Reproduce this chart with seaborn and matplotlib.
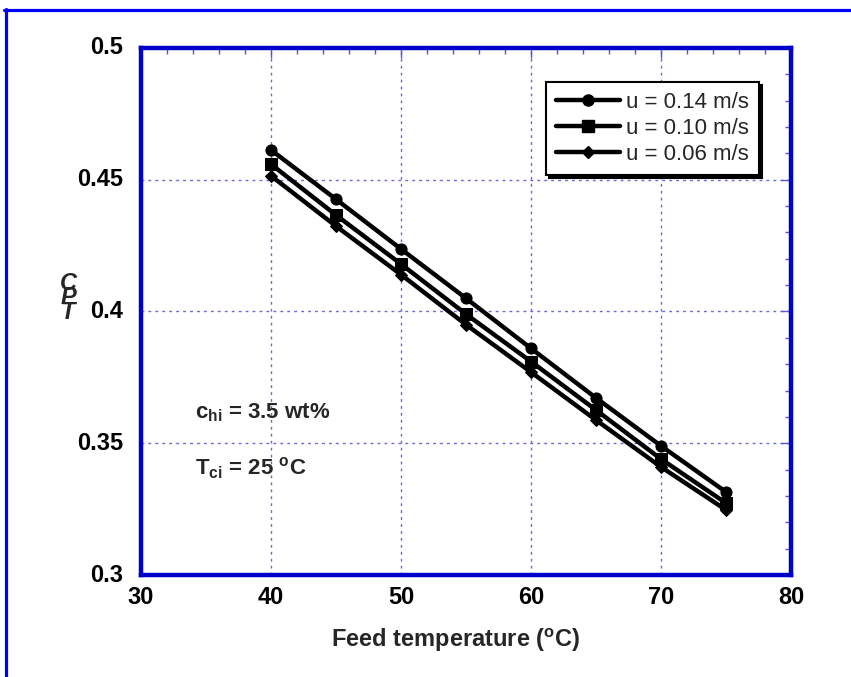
import matplotlib
matplotlib.use("Agg")
import matplotlib.pyplot as plt
from matplotlib.lines import Line2D
from matplotlib.ticker import MultipleLocator
import seaborn as sns
import pandas as pd

# Feed temperature (°C) and CPT for three flow velocities
feed_temp = [40, 45, 50, 55, 60, 65, 70, 75]
cpt_u014 = [0.4613, 0.4426, 0.4237, 0.4050, 0.3860, 0.3672, 0.3490, 0.3315]
cpt_u010 = [0.4559, 0.4366, 0.4180, 0.3990, 0.3810, 0.3626, 0.3440, 0.3273]
cpt_u006 = [0.4515, 0.4324, 0.4140, 0.3950, 0.3770, 0.3588, 0.3410, 0.3247]
series_labels = ["u = 0.14 m/s", "u = 0.10 m/s", "u = 0.06 m/s"]
series_markers = ["o", "s", "D"]
x_ticks = [30, 40, 50, 60, 70, 80]
y_ticks = [0.3, 0.35, 0.4, 0.45, 0.5]

sns.set_style("white")
plt.rcParams["font.family"] = ["Liberation Sans", "DejaVu Sans"]

fig = plt.figure(figsize=(8.51, 6.77), dpi=100)
W, H = 851, 677
ax = fig.add_axes([141 / W, 1 - 575 / H, (791 - 141) / W, (575 - 48) / H])

frames = []
for lab, vals in zip(series_labels, [cpt_u014, cpt_u010, cpt_u006]):
    frames.append(pd.DataFrame({"T": feed_temp, "CPT": vals, "series": lab}))
df = pd.concat(frames, ignore_index=True)

msizes = {"o": 8, "s": 8, "D": 6.5}
for lab, mk in zip(series_labels, series_markers):
    sub = df[df["series"] == lab]
    sns.lineplot(data=sub, x="T", y="CPT", ax=ax, color="black", linewidth=3.2,
                 marker=mk, markersize=msizes[mk], markeredgecolor="black",
                 markerfacecolor="black", legend=False)

ax.set_xlim(30, 80)
ax.set_ylim(0.3, 0.5)
ax.xaxis.set_major_locator(MultipleLocator(10))
ax.xaxis.set_minor_locator(MultipleLocator(2))
ax.yaxis.set_major_locator(MultipleLocator(0.05))
ax.yaxis.set_minor_locator(MultipleLocator(0.01))

spine_blue = "#0000CC"
for s in ax.spines.values():
    s.set_visible(True)
    s.set_color(spine_blue)
    s.set_linewidth(3.2)

ax.tick_params(which="both", direction="in", top=True, right=True,
               color="#5555DD", labelleft=False, labelbottom=False)
ax.tick_params(which="major", length=7, width=1)
ax.tick_params(which="minor", length=4, width=1)

ax.grid(True, which="major", color="#6666DD", linestyle=(0, (2, 3)), linewidth=1)
ax.set_axisbelow(True)
ax.set_xlabel("")
ax.set_ylabel("")

# Bold tick labels
tick_font = dict(fontsize=17, fontweight="bold", color="black")
for xv in x_ticks:
    ax.text(xv, -22 / 527, f"{xv}", transform=ax.get_xaxis_transform(),
            ha="center", va="center", **tick_font)
for yv in y_ticks:
    ax.text(-18 / 650, yv, f"{yv:g}", transform=ax.get_yaxis_transform(),
            ha="right", va="center", **tick_font)

fig.text(456 / W, 1 - 640 / H, r"Feed temperature ($\mathregular{^o}$C)",
         ha="center", va="center", fontsize=17, fontweight="bold")
fig.text(68 / W, 1 - 298 / H, "C\nP\nT", ha="center", va="center",
         fontsize=17, fontweight="bold", fontstyle="italic", linespacing=0.55)

fig.text(195 / W, 1 - 413 / H, r"c$\mathregular{_{hi}}$ = 3.5 wt%",
         ha="left", va="center", fontsize=16, fontweight="bold")
fig.text(195 / W, 1 - 468 / H, r"T$\mathregular{_{ci}}$ = 25 $\mathregular{^o}$C",
         ha="left", va="center", fontsize=16, fontweight="bold")

handles = [Line2D([], [], color="black", linewidth=3.2, marker=m,
                  markersize=msizes[m]) for m in series_markers]
leg = ax.legend(handles, series_labels, loc="upper left",
                bbox_to_anchor=((546 - 141) / 650, (575 - 82) / 527),
                fontsize=16, frameon=True, fancybox=False, framealpha=1,
                edgecolor="black", handlelength=2.9, handletextpad=0.25,
                borderpad=0.45, labelspacing=0.22, borderaxespad=0,
                shadow={"color": "black", "alpha": 1})
leg.get_frame().set_linewidth(1.5)

# Page border along top and left
fig.add_artist(Line2D([4 / W, 1], [1 - 9.5 / H, 1 - 9.5 / H], color="#0000FF",
                      linewidth=2.3, transform=fig.transFigure))
fig.add_artist(Line2D([5.5 / W, 5.5 / W], [0, 1 - 8.5 / H], color="#0000FF",
                      linewidth=2.3, transform=fig.transFigure))

fig.savefig("out.png", dpi=100)
